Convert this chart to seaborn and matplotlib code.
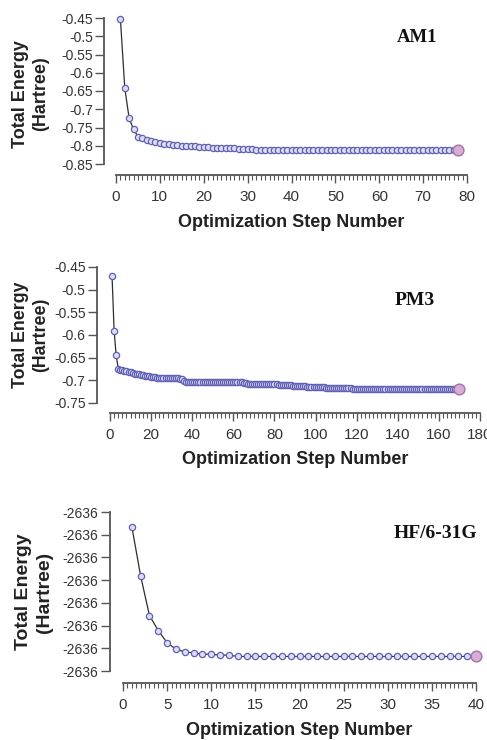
import matplotlib
matplotlib.use("Agg")
import matplotlib.pyplot as plt
import numpy as np
import pandas as pd
import seaborn as sns
from matplotlib.ticker import MultipleLocator

# ---------------- data ----------------
am1_energy = [
    -0.452, -0.642, -0.725, -0.755, -0.775, -0.778, -0.783, -0.788, -0.791, -0.793,
    -0.794, -0.796, -0.797, -0.798, -0.800, -0.800, -0.801, -0.802, -0.803, -0.803,
    -0.804, -0.805, -0.805, -0.806, -0.806, -0.807, -0.807, -0.808, -0.808, -0.809,
    -0.810, -0.811, -0.812, -0.812, -0.812, -0.812, -0.812, -0.812, -0.812, -0.812,
    -0.812, -0.812, -0.812, -0.812, -0.812, -0.813, -0.813, -0.813, -0.813, -0.813,
    -0.813, -0.813, -0.813, -0.813, -0.813, -0.813, -0.813, -0.813, -0.813, -0.813,
    -0.813, -0.813, -0.813, -0.813, -0.813, -0.813, -0.813, -0.813, -0.813, -0.813,
    -0.813, -0.813, -0.813, -0.813, -0.813, -0.813, -0.813, -0.813,
]
am1_steps = list(range(1, len(am1_energy) + 1))

pm3_energy = [
    -0.470, -0.591, -0.645, -0.674, -0.677, -0.678, -0.679, -0.680, -0.681, -0.682,
    -0.684, -0.685, -0.686, -0.687, -0.688, -0.689, -0.690, -0.690, -0.691, -0.692,
    -0.693, -0.693, -0.694, -0.694, -0.694, -0.694, -0.694, -0.694, -0.694, -0.694,
    -0.694, -0.694, -0.695, -0.697, -0.698, -0.702, -0.704, -0.704, -0.704, -0.704,
    -0.704, -0.704, -0.704, -0.704, -0.704, -0.704, -0.704, -0.704, -0.704, -0.704,
    -0.704, -0.704, -0.704, -0.704, -0.704, -0.704, -0.704, -0.704, -0.704, -0.704,
    -0.704, -0.704, -0.704, -0.704, -0.705, -0.706, -0.707, -0.707, -0.707, -0.707,
    -0.707, -0.707, -0.707, -0.707, -0.707, -0.707, -0.707, -0.707, -0.707, -0.707,
    -0.708, -0.710, -0.710, -0.710, -0.710, -0.711, -0.711, -0.711, -0.712, -0.712,
    -0.712, -0.712, -0.713, -0.713, -0.713, -0.714, -0.714, -0.714, -0.714, -0.714,
    -0.714, -0.714, -0.715, -0.715, -0.716, -0.716, -0.716, -0.716, -0.716, -0.716,
    -0.716, -0.716, -0.716, -0.716, -0.716, -0.716, -0.718, -0.720, -0.720, -0.720,
    -0.720, -0.720, -0.720, -0.720, -0.720, -0.720, -0.720, -0.720, -0.720, -0.720,
    -0.720, -0.720, -0.720, -0.720, -0.720, -0.720, -0.720, -0.720, -0.720, -0.720,
    -0.720, -0.720, -0.720, -0.720, -0.720, -0.720, -0.720, -0.720, -0.720, -0.720,
    -0.720, -0.720, -0.720, -0.720, -0.720, -0.720, -0.720, -0.720, -0.720, -0.720,
    -0.720, -0.720, -0.720, -0.720, -0.720, -0.720, -0.720, -0.720, -0.720, -0.720,
]
pm3_steps = list(range(1, len(pm3_energy) + 1))

hf_energy = [
    -2636.0032, -2636.0141, -2636.0228, -2636.0261, -2636.0288, -2636.0302, -2636.0308, -2636.0310, -2636.0313, -2636.0313,
    -2636.0315, -2636.0315, -2636.0318, -2636.0318, -2636.0318, -2636.0318, -2636.0318, -2636.0318, -2636.0318, -2636.0318,
    -2636.0318, -2636.0318, -2636.0318, -2636.0318, -2636.0318, -2636.0318, -2636.0318, -2636.0318, -2636.0318, -2636.0318,
    -2636.0318, -2636.0318, -2636.0318, -2636.0318, -2636.0318, -2636.0318, -2636.0318, -2636.0318, -2636.0318, -2636.0318,
]
hf_steps = list(range(1, len(hf_energy) + 1))

am1_yticks = [-0.85, -0.80, -0.75, -0.70, -0.65, -0.60, -0.55, -0.50, -0.45]
am1_ylabels = ["-0.85", "-0.8", "-0.75", "-0.7", "-0.65", "-0.6", "-0.55", "-0.5", "-0.45"]
am1_xticks = [0, 10, 20, 30, 40, 50, 60, 70, 80]

pm3_yticks = [-0.75, -0.70, -0.65, -0.60, -0.55, -0.50, -0.45]
pm3_ylabels = ["-0.75", "-0.7", "-0.65", "-0.6", "-0.55", "-0.5", "-0.45"]
pm3_xticks = [0, 20, 40, 60, 80, 100, 120, 140, 160, 180]

hf_yticks = [-2636.035, -2636.030, -2636.025, -2636.020, -2636.015, -2636.010, -2636.005, -2636.000]
hf_ylabels = ["-2636"] * 8
hf_xticks = [0, 5, 10, 15, 20, 25, 30, 35, 40]

method_names = ["AM1", "PM3", "HF/6-31G"]
xlabel_text = "Optimization Step Number"
ylabel_text = "Total Energy\n(Hartree)"

# ---------------- style ----------------
sns.set_theme(style="white")
plt.rcParams["font.family"] = ["Liberation Sans", "DejaVu Sans"]

SPINE = "#555555"
TXT = "#333333"

fig = plt.figure(figsize=(4.87, 7.40), dpi=100)

panels = [
    dict(steps=am1_steps, energy=am1_energy, xticks=am1_xticks, xminor=1,
         yticks=am1_yticks, ylabels=am1_ylabels,
         rect=[116/487, 1-164/740, 351/487, 146/740], off=dict(left=8.5, bottom=8),
         name_xy=(417/487, 1-38/740), name_size=13.5,
         ylab_xy=(31/487, 1-94/740), ylab_size=13, labelpad=7),
    dict(steps=pm3_steps, energy=pm3_energy, xticks=pm3_xticks, xminor=2,
         yticks=pm3_yticks, ylabels=pm3_ylabels,
         rect=[110/487, 1-403/740, 370/487, 136/740], off=dict(left=9.6, bottom=7.2),
         name_xy=(415/487, 1-300/740), name_size=14,
         ylab_xy=(31/487, 1-335/740), ylab_size=12.8, labelpad=6),
    dict(steps=hf_steps, energy=hf_energy, xticks=hf_xticks, xminor=0.5,
         yticks=hf_yticks, ylabels=hf_ylabels,
         rect=[123/487, 1-671/740, 353/487, 159/740], off=dict(left=9.6, bottom=8.6),
         name_xy=(435/487, 1-533/740), name_size=14,
         ylab_xy=(34/487, 1-592/740), ylab_size=14, labelpad=7),
]

for p, name in zip(panels, method_names):
    ax = fig.add_axes(p["rect"])
    df = pd.DataFrame({"step": p["steps"], "energy": p["energy"]})
    sns.lineplot(data=df, x="step", y="energy", ax=ax, color="#2e2e2e", lw=0.9,
                 marker="o", markersize=4.5, markeredgecolor="#6060b4",
                 markerfacecolor="#dcdcf2", markeredgewidth=0.9, clip_on=False,
                 estimator=None)
    last = df.iloc[[-1]]
    sns.scatterplot(data=last, x="step", y="energy", ax=ax, s=60, color="#d4aed4",
                    edgecolor="#a870a8", linewidth=1.0, zorder=5, clip_on=False)

    ax.set_xlim(p["xticks"][0], p["xticks"][-1])
    ax.set_ylim(p["yticks"][0], p["yticks"][-1])
    ax.set_xticks(p["xticks"])
    ax.set_yticks(p["yticks"])
    ax.xaxis.set_minor_locator(MultipleLocator(p["xminor"]))

    sns.despine(ax=ax, offset=p["off"], trim=True)
    ax.set_xticks(p["xticks"], labels=[str(v) for v in p["xticks"]])
    ax.set_yticks(p["yticks"], labels=p["ylabels"])

    for s in ("left", "bottom"):
        ax.spines[s].set_linewidth(1.3)
        ax.spines[s].set_color(SPINE)

    ax.tick_params(axis="x", which="major", direction="out", length=6, width=1.0,
                   color=SPINE, pad=5, labelsize=11, labelcolor=TXT, bottom=True)
    ax.tick_params(axis="x", which="minor", direction="out", length=3.5, width=0.8,
                   color=SPINE, bottom=True)
    ax.tick_params(axis="y", which="major", direction="out", length=6.5, width=1.0,
                   color=SPINE, pad=1.5, labelsize=10, labelcolor=TXT, left=True)

    ax.set_xlabel(xlabel_text, fontsize=13, fontweight="bold", color="#222222",
                  labelpad=p["labelpad"])
    ax.set_ylabel("")

    fig.text(p["name_xy"][0], p["name_xy"][1], name, ha="center", va="center",
             family=["Liberation Serif", "DejaVu Serif"], fontweight="bold",
             fontsize=p["name_size"], color="#111111")
    fig.text(p["ylab_xy"][0], p["ylab_xy"][1], ylabel_text, ha="center", va="center",
             rotation=90, multialignment="center", linespacing=1.25,
             fontsize=p["ylab_size"], fontweight="bold", color="#222222")

fig.savefig("out.png", dpi=100, facecolor="white")
